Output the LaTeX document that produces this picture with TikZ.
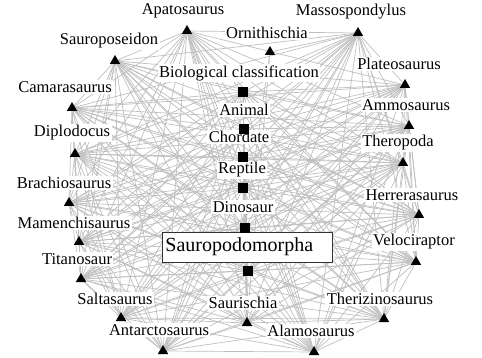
\documentclass[tikz,border=0pt]{standalone}
\usepackage{fontspec}
\setmainfont{Liberation Serif}
\usetikzlibrary{shapes.geometric}

\tikzset{
  edge/.style={draw=black!25, line width=0.7pt},
  tri/.style={regular polygon, regular polygon sides=3, fill=black, inner sep=0pt, minimum size=12pt},
  sq/.style={rectangle, fill=black, inner sep=0pt, minimum size=10pt},
  lbl/.style={fill=white, inner sep=1.5pt, font=\rmfamily\fontsize{16.5}{18}\selectfont},
}

\begin{document}
\begin{tikzpicture}[x=1pt,y=-1pt]
    \useasboundingbox (0,0) rectangle (482,358);

    % Taxa (triangles) round the ring
    \coordinate (apato) at (187,31);
    \coordinate (ornith) at (270,52);
    \coordinate (masso) at (358,33);
    \coordinate (sauropos) at (115,61);
    \coordinate (plateo) at (405,85);
    \coordinate (camara) at (72,108);
    \coordinate (ammo) at (409,126);
    \coordinate (diplo) at (75,154);
    \coordinate (thero) at (403,163);
    \coordinate (brachio) at (69,203);
    \coordinate (herrera) at (419,215);
    \coordinate (mamen) at (79,242);
    \coordinate (veloci) at (416,262);
    \coordinate (titano) at (81,279);
    \coordinate (salta) at (121,318);
    \coordinate (therizino) at (384,319);
    \coordinate (saurischia) at (247,323);
    \coordinate (antarcto) at (163,351);
    \coordinate (alamo) at (314,352);

    % Classification chain (squares) in the middle
    \coordinate (bio) at (243,92);
    \coordinate (animal) at (244,129);
    \coordinate (chordate) at (243,157);
    \coordinate (reptile) at (243,188);
    \coordinate (dino) at (245,228);
    \coordinate (sauropodo) at (248,271);

    \def\taxa{apato,masso,sauropos,plateo,camara,ammo,diplo,thero,brachio,herrera,mamen,veloci,titano,salta,therizino,saurischia,antarcto,alamo,bio,animal,chordate,reptile,dino,sauropodo}

    % Links
    \foreach \a [count=\i] in \taxa {
      \foreach \b [count=\j] in \taxa {
        \ifnum\j>\i \draw[edge] (\a) -- (\b); \fi
      }
    }
    \draw[edge] (ornith) -- (masso);
    \draw[edge] (ornith) -- (dino);
    \draw[edge] (ornith) -- (saurischia);

    % Labels
    \node[lbl] (apato-l) at (183,11) {Apatosaurus};
    \node[lbl] (ornith-l) at (267,33) {Ornithischia};
    \node[lbl] (masso-l) at (351,12) {Massospondylus};
    \node[lbl] (sauropos-l) at (109,41) {Sauroposeidon};
    \node[lbl] (plateo-l) at (399,64) {Plateosaurus};
    \node[lbl] (camara-l) at (65,87) {Camarasaurus};
    \node[lbl] (ammo-l) at (406,105) {Ammosaurus};
    \node[lbl] (diplo-l) at (72,133) {Diplodocus};
    \node[lbl] (thero-l) at (398,143) {Theropoda};
    \node[lbl] (brachio-l) at (64,183) {Brachiosaurus};
    \node[lbl] (herrera-l) at (412,195) {Herrerasaurus};
    \node[lbl] (mamen-l) at (74,223) {Mamenchisaurus};
    \node[lbl] (veloci-l) at (414,242) {Velociraptor};
    \node[lbl] (titano-l) at (77,259) {Titanosaur};
    \node[lbl] (salta-l) at (115,299) {Saltasaurus};
    \node[lbl] (therizino-l) at (380,299) {Therizinosaurus};
    \node[lbl] (saurischia-l) at (243,303) {Saurischia};
    \node[lbl] (antarcto-l) at (159,330) {Antarctosaurus};
    \node[lbl] (alamo-l) at (311,331) {Alamosaurus};

    \node[lbl] (bio-l) at (239,73) {Biological classification};
    \node[lbl] (animal-l) at (244,110) {Animal};
    \node[lbl] (chordate-l) at (239,137) {Chordate};
    \node[lbl] (reptile-l) at (242,170) {Reptile};
    \node[lbl] (dino-l) at (243,207) {Dinosaur};
    \node[lbl, draw=black!80, line width=0.8pt, anchor=west, inner xsep=3pt, inner ysep=3pt,
          text width=164pt, align=left, minimum height=30pt,
          font=\rmfamily\fontsize{20}{22}\selectfont] (sauropodo-l) at (162,247) {Sauropodomorpha};

    % Markers
    \foreach \t in {apato,ornith,masso,sauropos,plateo,camara,ammo,diplo,thero,brachio,herrera,mamen,veloci,titano,salta,therizino,saurischia,antarcto,alamo}
      \node[tri] (\t-m) at (\t) {};
    \foreach \t in {bio,animal,chordate,reptile,dino,sauropodo}
      \node[sq] (\t-m) at (\t) {};
\end{tikzpicture}
\end{document}
